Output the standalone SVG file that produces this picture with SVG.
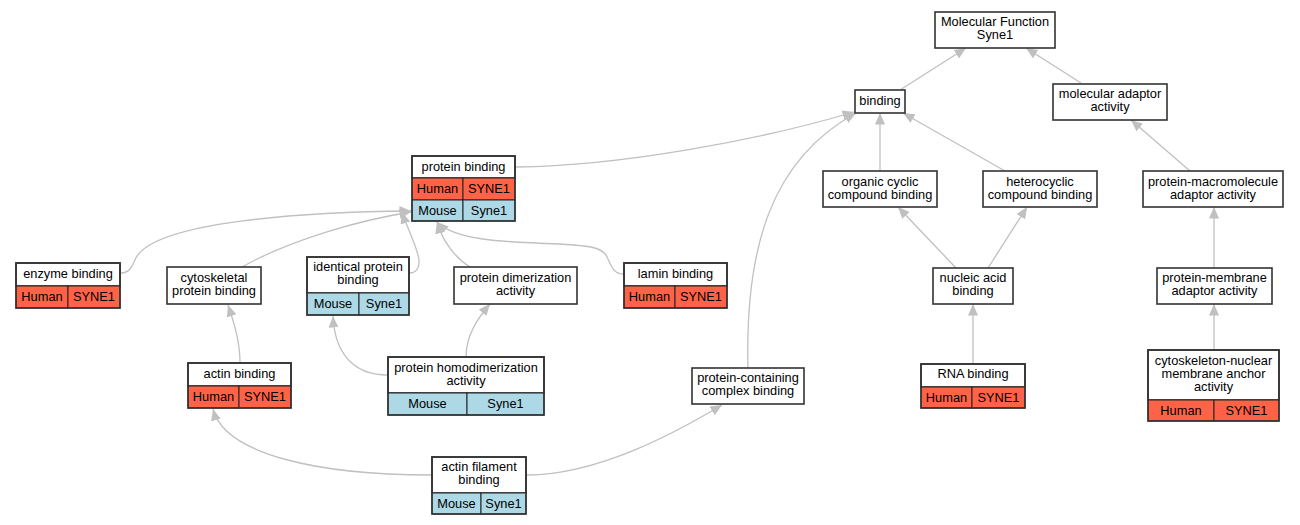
<svg xmlns="http://www.w3.org/2000/svg" width="1300" height="525" viewBox="0 0 1300 525">
<style>
text{font-family:"Liberation Sans",Arial,sans-serif;font-size:12.8px;fill:#000;text-anchor:middle}
.box{fill:#fff;stroke:#333;stroke-width:1.6}
.hu{fill:#ff6347;stroke:#222;stroke-width:1}
.mo{fill:#add8e6;stroke:#222;stroke-width:1}
.out{fill:none;stroke:#333;stroke-width:1.6}
.e{fill:none;stroke:#c0c0c0;stroke-width:1.3;marker-end:url(#ah)}
</style>
<defs>
<marker id="ah" markerUnits="userSpaceOnUse" markerWidth="12" markerHeight="11" refX="11.5" refY="5" orient="auto">
<path d="M0,0 L11.5,5 L0,10 z" fill="#c0c0c0"/>
</marker>
</defs>
<rect width="1300" height="525" fill="#fff"/>
<g id="connectors">
<path class="e" d="M900,90 L966,48"/>
<path class="e" d="M1081,83 L1026,48"/>
<path class="e" d="M516,167 C620,166 760,140 854,112"/>
<path class="e" d="M748,368 C745,250 770,160 856,113"/>
<path class="e" d="M880,171 L880,113"/>
<path class="e" d="M1005,171 L903,113"/>
<path class="e" d="M1190,171 L1131,120"/>
<path class="e" d="M1214,268 L1214,207"/>
<path class="e" d="M1214,350 L1214,304"/>
<path class="e" d="M956,268 L898,207"/>
<path class="e" d="M988,268 L1027,207"/>
<path class="e" d="M973,364 L973,304"/>
<path class="e" d="M121,273 C132,273 133,262 137,256 C160,222 300,212 411,211"/>
<path class="e" d="M242,267 C290,240 360,220 411,212"/>
<path class="e" d="M409,273 C420,273 420,262 418,255 C414,240 406,225 402,212"/>
<path class="e" d="M470,267 C455,258 442,240 437,222"/>
<path class="e" d="M623,274 C612,274 610,262 606,255 C600,247 590,246 560,244 C500,242 455,240 437,222"/>
<path class="e" d="M240,363 C240,340 233,320 228,305"/>
<path class="e" d="M387,375 C360,375 335,360 333,316"/>
<path class="e" d="M466,357 C466,335 478,318 490,304"/>
<path class="e" d="M431,475 C320,475 225,455 213,409"/>
<path class="e" d="M527,475 C600,475 680,430 722,405"/>
</g>
<g id="n_mf">
<rect class="box" x="935" y="12" width="120" height="36"/>
<text x="995" y="25.5">Molecular Function</text>
<text x="995" y="38.5">Syne1</text>
</g>
<g id="n_binding">
<rect class="box" x="855" y="90" width="50" height="23"/>
<text x="880" y="105">binding</text>
</g>
<g id="n_molad">
<rect class="box" x="1053" y="84" width="114" height="36"/>
<text x="1110" y="98">molecular adaptor</text>
<text x="1110" y="111">activity</text>
</g>
<g id="n_protein_binding">
<rect class="box" x="412" y="156" width="103" height="22"/>
<rect class="hu" x="412" y="178" width="51" height="22"/>
<rect class="hu" x="463" y="178" width="52" height="22"/>
<rect class="mo" x="412" y="200" width="51" height="21"/>
<rect class="mo" x="463" y="200" width="52" height="21"/>
<rect class="out" x="412" y="156" width="103" height="65"/>
<text x="463.5" y="171">protein binding</text>
<text x="437.5" y="193">Human</text>
<text x="489" y="193">SYNE1</text>
<text x="437.5" y="214.5">Mouse</text>
<text x="489" y="214.5">Syne1</text>
</g>
<g id="n_enzyme">
<rect class="box" x="16" y="263" width="104" height="23"/>
<rect class="hu" x="16" y="286" width="52" height="22"/>
<rect class="hu" x="68" y="286" width="52" height="22"/>
<rect class="out" x="16" y="263" width="104" height="45"/>
<text x="68" y="278">enzyme binding</text>
<text x="42" y="301">Human</text>
<text x="94" y="301">SYNE1</text>
</g>
<g id="n_cytoskeletal">
<rect class="box" x="167" y="267" width="94" height="37"/>
<text x="214" y="282">cytoskeletal</text>
<text x="214" y="295">protein binding</text>
</g>
<g id="n_identical">
<rect class="box" x="307" y="257" width="102" height="36"/>
<rect class="mo" x="307" y="293" width="52" height="22"/>
<rect class="mo" x="359" y="293" width="50" height="22"/>
<rect class="out" x="307" y="257" width="102" height="58"/>
<text x="358" y="271">identical protein</text>
<text x="358" y="284">binding</text>
<text x="333" y="308">Mouse</text>
<text x="384" y="308">Syne1</text>
</g>
<g id="n_dimerization">
<rect class="box" x="454" y="267" width="123" height="37"/>
<text x="515.5" y="282">protein dimerization</text>
<text x="515.5" y="295">activity</text>
</g>
<g id="n_lamin">
<rect class="box" x="624" y="263" width="103" height="23"/>
<rect class="hu" x="624" y="286" width="51" height="22"/>
<rect class="hu" x="675" y="286" width="52" height="22"/>
<rect class="out" x="624" y="263" width="103" height="45"/>
<text x="675.5" y="278">lamin binding</text>
<text x="649.5" y="301">Human</text>
<text x="701" y="301">SYNE1</text>
</g>
<g id="n_actin">
<rect class="box" x="188" y="363" width="103" height="23"/>
<rect class="hu" x="188" y="386" width="51" height="22"/>
<rect class="hu" x="239" y="386" width="52" height="22"/>
<rect class="out" x="188" y="363" width="103" height="45"/>
<text x="239.5" y="378">actin binding</text>
<text x="213.5" y="401">Human</text>
<text x="265" y="401">SYNE1</text>
</g>
<g id="n_homodimer">
<rect class="box" x="388" y="357" width="156" height="36"/>
<rect class="mo" x="388" y="393" width="79" height="22"/>
<rect class="mo" x="467" y="393" width="77" height="22"/>
<rect class="out" x="388" y="357" width="156" height="58"/>
<text x="466" y="371.5">protein homodimerization</text>
<text x="466" y="384.5">activity</text>
<text x="427.5" y="408">Mouse</text>
<text x="505.5" y="408">Syne1</text>
</g>
<g id="n_pcc">
<rect class="box" x="692" y="368" width="112" height="36"/>
<text x="748" y="382">protein-containing</text>
<text x="748" y="395">complex binding</text>
</g>
<g id="n_actin_filament">
<rect class="box" x="432" y="457" width="94" height="36"/>
<rect class="mo" x="432" y="493" width="49" height="21"/>
<rect class="mo" x="481" y="493" width="45" height="21"/>
<rect class="out" x="432" y="457" width="94" height="57"/>
<text x="479" y="471">actin filament</text>
<text x="479" y="484">binding</text>
<text x="456.5" y="507.5">Mouse</text>
<text x="503.5" y="507.5">Syne1</text>
</g>
<g id="n_organic">
<rect class="box" x="823" y="171" width="114" height="36"/>
<text x="880" y="186">organic cyclic</text>
<text x="880" y="198.5">compound binding</text>
</g>
<g id="n_hetero">
<rect class="box" x="983" y="171" width="114" height="36"/>
<text x="1040" y="186">heterocyclic</text>
<text x="1040" y="198.5">compound binding</text>
</g>
<g id="n_pmacro">
<rect class="box" x="1143" y="171" width="140" height="36"/>
<text x="1213" y="186">protein-macromolecule</text>
<text x="1213" y="198.5">adaptor activity</text>
</g>
<g id="n_nucleic">
<rect class="box" x="933" y="268" width="80" height="36"/>
<text x="973" y="282">nucleic acid</text>
<text x="973" y="295">binding</text>
</g>
<g id="n_pmembrane">
<rect class="box" x="1157" y="268" width="115" height="36"/>
<text x="1214.5" y="282">protein-membrane</text>
<text x="1214.5" y="295">adaptor activity</text>
</g>
<g id="n_rna">
<rect class="box" x="921" y="364" width="104" height="23"/>
<rect class="hu" x="921" y="387" width="51" height="21"/>
<rect class="hu" x="972" y="387" width="53" height="21"/>
<rect class="out" x="921" y="364" width="104" height="44"/>
<text x="973" y="378">RNA binding</text>
<text x="946.5" y="401.5">Human</text>
<text x="998.5" y="401.5">SYNE1</text>
</g>
<g id="n_anchor">
<rect class="box" x="1148" y="350" width="131" height="50"/>
<rect class="hu" x="1148" y="400" width="66" height="21"/>
<rect class="hu" x="1214" y="400" width="65" height="21"/>
<rect class="out" x="1148" y="350" width="131" height="71"/>
<text x="1213.5" y="365">cytoskeleton-nuclear</text>
<text x="1213.5" y="378">membrane anchor</text>
<text x="1213.5" y="391">activity</text>
<text x="1181" y="414.5">Human</text>
<text x="1246.5" y="414.5">SYNE1</text>
</g>
</svg>
